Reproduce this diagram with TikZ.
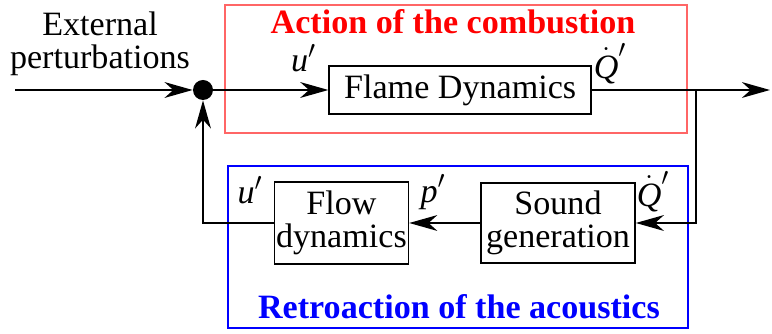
\documentclass[tikz,border=0pt]{standalone}
\usepackage{fontspec}
\newfontfamily\diagfont{Liberation Serif}
\usetikzlibrary{arrows.meta, positioning}
\tikzstyle{block} = [rectangle, draw=black, line width=0.9pt, align=center, inner sep=0pt, font=\diagfont\fontsize{19.4}{18.5}\selectfont]
\tikzstyle{lbl} = [inner sep=0pt, font=\diagfont\fontsize{19.4}{18.5}\selectfont]
\tikzstyle{title} = [inner sep=0pt, font=\diagfont\fontsize{19.4}{18.5}\selectfont\bfseries]
\tikzstyle{arrow} = [line width=1.1pt, -{Stealth[length=16pt, width=9pt, inset=5pt]}]

\begin{document}
\begin{tikzpicture}
\useasboundingbox (0,0) rectangle (15.44,-6.68);
% Frames
\draw [red!60, line width=0.9pt] (4.50,-0.10) rectangle (13.74,-2.66);
\draw [blue, line width=0.9pt] (4.56,-3.32) rectangle (13.76,-6.56);
\node (action) [title, text=red] at (9.06,-0.44) {Action of the combustion};
\node (retro) [title, text=blue] at (9.18,-6.14) {Retroaction of the acoustics};
% Blocks
\node (sum) [circle, fill=black, minimum size=0.4cm, inner sep=0pt] at (4.06,-1.80) {};
\node (flame) [block, minimum width=5.24cm, minimum height=0.96cm, right=2.30cm of sum] {Flame Dynamics};
\node (sound) [block, minimum width=3.08cm, minimum height=1.60cm] at (11.16,-4.46) {Sound\\generation};
\node (flow) [block, minimum width=2.68cm, minimum height=1.64cm, left=1.42cm of sound] {Flow\\dynamics};
\coordinate (in) at (0.30,-1.80);
\coordinate (out) at (15.40,-1.80);
\coordinate (split) at (13.92,-1.80);
\coordinate (down) at (split |- sound);
\coordinate (back) at (sum |- flow);
% Labels
\node (ext) [lbl, align=center] at (2.0,-0.88) {External\\perturbations};
\node (uin) [lbl] at (6.07,-1.17) {\textit{u}$'$};
\node (qout) [lbl] at (12.20,-1.28) {$\dot{\hbox{\textit{Q}}}'$};
\node (qback) [lbl] at (13.06,-3.84) {$\dot{\hbox{\textit{Q}}}'$};
\node (pback) [lbl] at (8.66,-3.84) {\textit{p}$'$};
\node (uback) [lbl] at (5.00,-3.80) {\textit{u}$'$};
% Arrows
\draw [arrow] (in) -- (sum);
\draw [arrow] (sum) -- (flame);
\draw [arrow] (flame) -- (out);
\draw [arrow] (split) -- (down) -- (sound);
\draw [arrow] (sound) -- (flow);
\draw [arrow] (flow) -- (back) -- (sum);
\end{tikzpicture}
\end{document}
